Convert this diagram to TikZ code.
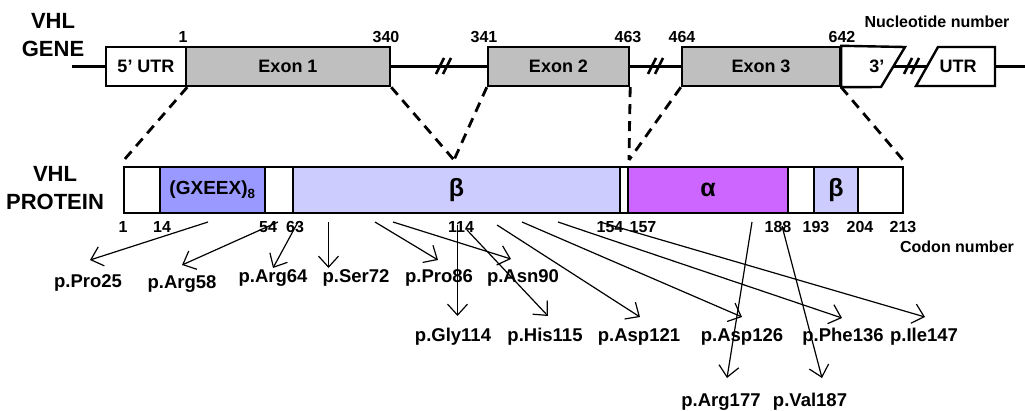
\documentclass[tikz,border=0pt]{standalone}
\usepackage{fontspec}
\setmainfont{Liberation Sans}
\usetikzlibrary{arrows.meta}

\definecolor{exongray}{HTML}{BFBFBF}
\definecolor{repblue}{HTML}{9999FF}
\definecolor{betablue}{HTML}{CCCCFF}
\definecolor{alphapink}{HTML}{CC66FF}

\tikzset{
  gbox/.style={draw, line width=2.4pt, minimum height=39pt, inner sep=0pt, font=\fontsize{18}{20}\selectfont\bfseries},
  pbox/.style={draw, line width=2.4pt, minimum height=46pt, inner sep=0pt},
  greek/.style={font=\fontsize{25}{27}\selectfont\bfseries},
  num/.style={font=\fontsize{16}{18}\selectfont\bfseries, inner sep=0pt},
  mut/.style={font=\fontsize{18.5}{20}\selectfont\bfseries, inner sep=0pt},
  ttl/.style={font=\fontsize{22}{27.5}\selectfont\bfseries, align=center, inner sep=0pt},
  geneline/.style={line width=3.8pt},
  brk/.style={line width=2.6pt},
  zoomline/.style={line width=2.8pt, dash pattern=on 10pt off 7pt},
  pointer/.style={-{Straight Barb[length=11pt,width=20pt,line width=1.2pt]}, line width=1.2pt},
}

\begin{document}
\begin{tikzpicture}[x=1pt,y=-1pt]
\useasboundingbox (0,0) rectangle (1025,410);

% titles
\node (vhlg) at (53,35) [ttl] {VHL\\GENE};
\node (vhlp) at (55,188) [ttl] {VHL\\PROTEIN};
\node (ntnum) at (937,22) [num] {Nucleotide number};
\node (cdnum) at (957,247) [num] {Codon number};

% gene
\coordinate (gl) at (72,66.5);
\coordinate (gr) at (1025,66.5);
\node (utr5) at (146,66.5) [gbox, fill=white, minimum width=80pt] {5’ UTR};
\node (ex1) at (288,66.5) [gbox, fill=exongray, minimum width=204pt] {Exon 1};
\node (ex2) at (558.5,66.5) [gbox, fill=exongray, minimum width=141pt] {Exon 2};
\node (ex3) at (761,66.5) [gbox, fill=exongray, minimum width=158pt] {Exon 3};
\coordinate (u3a) at (882,66.5);
\coordinate (u3b) at (930,66.5);

\draw[geneline]
(gl) to (utr5.west)
(ex1.east) to (ex2.west)
(ex2.east) to (ex3.west)
(u3a) to (u3b)
(995,66.5) to (gr);

\filldraw[fill=white, line width=2.4pt] (ex3.north east) -- (905,47) -- (881,87) -- (ex3.south east) -- cycle;
\filldraw[fill=white, line width=2.4pt] (916,86) -- (938,47) -- (995,47) -- (995,86) -- cycle;
\node (utr3a) at (888,66.5) [anchor=east, font=\fontsize{18}{20}\selectfont\bfseries] {3’};
\node (utr3b) at (958,66.5) [font=\fontsize{18}{20}\selectfont\bfseries] {UTR};

\foreach \x in {436,443} \draw[brk] (\x,74) -- (\x+8,58);
\foreach \x in {648,655} \draw[brk] (\x,74) -- (\x+8,58);
\foreach \x in {904,911} \draw[brk] (\x,74) -- (\x+8,58);

\node (g1) at (183,37) [num] {1};
\node (g340) at (386,37) [num] {340};
\node (g341) at (484,37) [num] {341};
\node (g463) at (628,37) [num] {463};
\node (g464) at (682,37) [num] {464};
\node (g642) at (842,37) [num] {642};

% protein
\node (p0) at (142,190) [pbox, fill=white, minimum width=36pt] {};
\node (p1) at (212.5,190) [pbox, fill=repblue, minimum width=105pt, font=\fontsize{19}{20}\selectfont\bfseries] {(GXEEX)\textsubscript{8}};
\node (p2) at (279,190) [pbox, fill=white, minimum width=28pt] {};
\node (p3) at (456.5,190) [pbox, fill=betablue, minimum width=327pt, greek] {β};
\node (p4) at (624,190) [pbox, fill=white, minimum width=8pt] {};
\node (p5) at (708,190) [pbox, fill=alphapink, minimum width=160pt, greek] {α};
\node (p6) at (801,190) [pbox, fill=white, minimum width=26pt] {};
\node (p7) at (836,190) [pbox, fill=betablue, minimum width=44pt, greek] {β};
\node (p8) at (880.5,190) [pbox, fill=white, minimum width=45pt] {};

\node (c1) at (123,227) [num] {1};
\node (c14) at (162,227) [num] {14};
\node (c54) at (268,227) [num] {54};
\node (c63) at (295,227) [num] {63};
\node (c114) at (461,227) [num] {114};
\node (c154) at (610,227) [num] {154};
\node (c157) at (643,227) [num] {157};
\node (c188) at (778,227) [num] {188};
\node (c193) at (816,227) [num] {193};
\node (c204) at (860,227) [num] {204};
\node (c213) at (903,227) [num] {213};

% exons onto the protein
\coordinate (v0) at (124,160);
\coordinate (v1) at (454,160);
\coordinate (v2) at (629,160);
\coordinate (v3) at (903,160);
\draw[zoomline]
(utr5.south east) to (v0)
(ex1.south east) to (v1)
(ex2.south west) to (v1)
(ex2.south east) to (v2)
(ex3.south west) to (v2)
(ex3.south east) to (v3);

% mutations
\node (m25) at (88,283) [mut] {p.Pro25};
\node (m58) at (182,284) [mut] {p.Arg58};
\node (m64) at (273,278) [mut] {p.Arg64};
\node (m72) at (356,278) [mut] {p.Ser72};
\node (m86) at (439,278) [mut] {p.Pro86};
\node (m90) at (523,278) [mut] {p.Asn90};
\node (m114) at (453,337) [mut] {p.Gly114};
\node (m115) at (545,337) [mut] {p.His115};
\node (m121) at (639,337) [mut] {p.Asp121};
\node (m126) at (742,337) [mut] {p.Asp126};
\node (m136) at (843,337) [mut] {p.Phe136};
\node (m147) at (924,337) [mut] {p.Ile147};
\node (m177) at (721,402) [mut] {p.Arg177};
\node (m187) at (810,402) [mut] {p.Val187};

\coordinate (s25) at (208,222);    \coordinate (t25) at (90,260);
\coordinate (s58) at (278,222);    \coordinate (t58) at (182,265);
\coordinate (s64) at (298,222);    \coordinate (t64) at (273,268);
\coordinate (s72) at (328.5,222);  \coordinate (t72) at (328.5,268);
\coordinate (s86) at (375,222);    \coordinate (t86) at (438,260);
\coordinate (s90) at (393,222);    \coordinate (t90) at (511,259);
\coordinate (s114) at (457.5,225); \coordinate (t114) at (457.5,316);
\coordinate (s115) at (467,230);   \coordinate (t115) at (548,316);
\coordinate (s121) at (497,225);   \coordinate (t121) at (640,317);
\coordinate (s126) at (522,222);   \coordinate (t126) at (742,317);
\coordinate (s136) at (558,222);   \coordinate (t136) at (842,318);
\coordinate (s147) at (600,222);   \coordinate (t147) at (925,317);
\coordinate (s177) at (752,222);   \coordinate (t177) at (727,378);
\coordinate (s187) at (782,226);   \coordinate (t187) at (822,378);

\foreach \m in {25,58,64,72,86,90,114,115,121,126,136,147,177,187}
  \draw[pointer] (s\m) to (t\m);

\end{tikzpicture}
\end{document}
